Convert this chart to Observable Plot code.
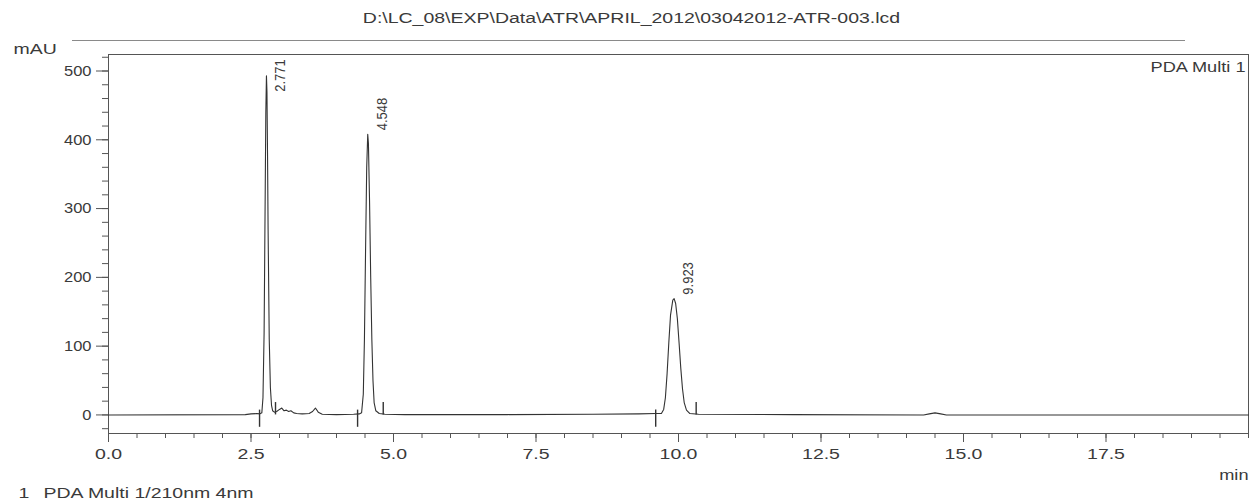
<!DOCTYPE html>
<html>
<head>
<meta charset="utf-8">
<script src="https://cdn.jsdelivr.net/npm/d3@7"></script>
<script src="https://cdn.jsdelivr.net/npm/@observablehq/plot@0.6"></script>
<style>
  html, body { margin: 0; padding: 0; background: #fff; }
  #chart { width: 1249px; height: 504px; }
</style>
</head>
<body>
<div id="chart"></div>
<script>
// ---- data ----
const times = [0, 2.40, 2.50, 2.60, 2.65, 2.69, 2.71, 2.73, 2.75, 2.76, 2.771, 2.78, 2.79, 2.80, 2.82, 2.84, 2.86, 2.88, 2.91, 2.95,
  3.00, 3.04, 3.08, 3.12, 3.16, 3.20, 3.25, 3.30, 3.40, 3.52, 3.58, 3.63, 3.68, 3.75, 4.00, 4.30, 4.40, 4.44, 4.47, 4.49,
  4.51, 4.53, 4.548, 4.56, 4.58, 4.60, 4.62, 4.64, 4.66, 4.69, 4.75, 4.85, 5.20, 7.00, 8.50, 9.30, 9.60, 9.70, 9.74, 9.77,
  9.80, 9.83, 9.86, 9.90, 9.923, 9.95, 9.98, 10.01, 10.04, 10.07, 10.10, 10.14, 10.20, 10.35, 12.00, 14.30, 14.40, 14.50, 14.60, 14.70, 20.0];
const mAU = [0, 0.5, 1.5, 2, 1.5, 3, 25, 120, 330, 440, 493, 470, 380, 270, 110, 40, 14, 6, 4, 5,
  8, 10, 6, 7, 5, 6, 3, 2, 1.5, 2, 5, 10, 4, 1, 0.5, 1, 1.5, 3, 30, 110,
  240, 360, 408, 395, 310, 200, 110, 50, 18, 6, 2, 1, 0.5, 0.5, 1, 1.5, 2, 2, 8, 25,
  60, 105, 145, 167, 169, 162, 140, 105, 68, 38, 18, 7, 2, 1, 0.5, 0, 1.5, 3, 1.5, 0, 0];

const peakTimes = [2.771, 4.548, 9.923];
const peakHeights = [493, 408, 169];
const peakLabels = ["2.771", "4.548", "9.923"];

const startMarks = [2.65, 4.37, 9.60];   // peak start markers (min)
const endMarks = [2.93, 4.82, 10.31];    // peak end markers (min)

const xMajor = [0, 2.5, 5, 7.5, 10, 12.5, 15, 17.5];
const xMinor = [0, 0.5, 1, 1.5, 2, 2.5, 3, 3.5, 4, 4.5, 5, 5.5, 6, 6.5, 7, 7.5, 8, 8.5, 9, 9.5, 10,
  10.5, 11, 11.5, 12, 12.5, 13, 13.5, 14, 14.5, 15, 15.5, 16, 16.5, 17, 17.5, 18, 18.5, 19, 19.5, 20];
const yMajor = [0, 100, 200, 300, 400, 500];
const yMinor = [-20, 0, 20, 40, 60, 80, 100, 120, 140, 160, 180, 200, 220, 240, 260, 280, 300, 320, 340,
  360, 380, 400, 420, 440, 460, 480, 500, 520];

const titleText = "D:\\LC_08\\EXP\\Data\\ATR\\APRIL_2012\\03042012-ATR-003.lcd";
const yUnit = "mAU";
const xUnit = "min";
const channelName = "PDA Multi 1";
const legendIndex = "1";
const legendText = "PDA Multi 1/210nm 4nm";

// ---- build ----
const series = times.map((t, i) => ({t, v: mAU[i]}));
const peaks = peakTimes.map((t, i) => ({t, h: peakHeights[i], label: peakLabels[i]}));
const labelCeiling = 464; // keep rotated labels inside the frame

const ink = "#3a3a3a";
const chart = Plot.plot({
  width: 1249,
  height: 504,
  marginLeft: 108,
  marginRight: 1,
  marginTop: 54,
  marginBottom: 71,
  style: {fontFamily: "'Liberation Sans', Arial, sans-serif", fontSize: "15px", color: ink, background: "#fff"},
  x: {domain: [0, 20], label: null},
  y: {domain: [-27, 524], label: null},
  marks: [
    Plot.frame({stroke: "#555", strokeWidth: 1}),
    Plot.axisX(xMinor, {anchor: "bottom", tickSize: 5, tickFormat: () => "", label: null, stroke: "#555"}),
    Plot.axisX(xMajor, {anchor: "bottom", tickSize: 9, tickPadding: 6, tickFormat: d => d.toFixed(1), label: null, stroke: "#555", fontSize: 15}),
    Plot.axisY(yMinor, {anchor: "left", tickSize: 6, tickFormat: () => "", label: null, stroke: "#555"}),
    Plot.axisY(yMajor, {anchor: "left", tickSize: 12, tickPadding: 5, label: null, stroke: "#555", fontSize: 15}),
    Plot.line(series, {x: "t", y: "v", stroke: "#333", strokeWidth: 1.1}),
    Plot.ruleX(startMarks, {x: d => d, y1: -18, y2: 7, stroke: "#333", strokeWidth: 1.4}),
    Plot.ruleX(endMarks, {x: d => d, y1: 0, y2: 18, stroke: "#333", strokeWidth: 1.4}),
    Plot.text(peaks, {x: "t", y: d => Math.min(d.h, labelCeiling), text: "label", rotate: -90, textAnchor: "start",
      dx: 14, dy: -4, fontSize: 13, fill: ink}),
    Plot.text([titleText], {frameAnchor: "top", dx: -47, dy: -42, fontSize: 15, fill: ink}),
    Plot.text([yUnit], {frameAnchor: "top-left", textAnchor: "start", dx: -95, dy: -11, fontSize: 15, fill: ink}),
    Plot.text([channelName], {frameAnchor: "top-right", textAnchor: "end", dx: -3, dy: 8, fontSize: 14, fill: ink}),
    Plot.text([xUnit], {frameAnchor: "bottom-right", textAnchor: "end", dx: 0, dy: 46, fontSize: 14, fill: ink}),
    Plot.text([legendIndex], {frameAnchor: "bottom-left", textAnchor: "start", dx: -90, dy: 64, fontSize: 15, fill: ink}),
    Plot.text([legendText], {frameAnchor: "bottom-left", textAnchor: "start", dx: -65, dy: 64, fontSize: 15, fill: ink})
  ]
});

// header rule next to the unit label
d3.select(chart).append("line")
  .attr("x1", 72).attr("x2", 1185).attr("y1", 40.5).attr("y2", 40.5)
  .attr("stroke", "#8a8a8a").attr("stroke-width", 1.2);

// the source image is horizontally stretched; widen glyphs around their anchors
chart.querySelectorAll("text").forEach(el => {
  let t = el.getAttribute("transform");
  const g = el.closest("g[aria-label]");
  const label = g ? g.getAttribute("aria-label") : "";
  let s = 1.3;
  if (label.startsWith("y-axis")) s = 1.1;
  if (t && /rotate/.test(t)) s = 1.15;
  if (!t) {
    const x = parseFloat(el.getAttribute("x"));
    if (isNaN(x)) return;
    el.removeAttribute("x");
    t = `translate(${x},0)`;
  }
  if (/^translate\(/.test(t)) {
    el.setAttribute("transform", t.replace(/^(translate\([^)]*\))/, `$1 scale(${s},1)`));
  } else {
    el.setAttribute("transform", `scale(${s},1) ` + t);
  }
});

document.getElementById("chart").appendChild(chart);
</script>
</body>
</html>
